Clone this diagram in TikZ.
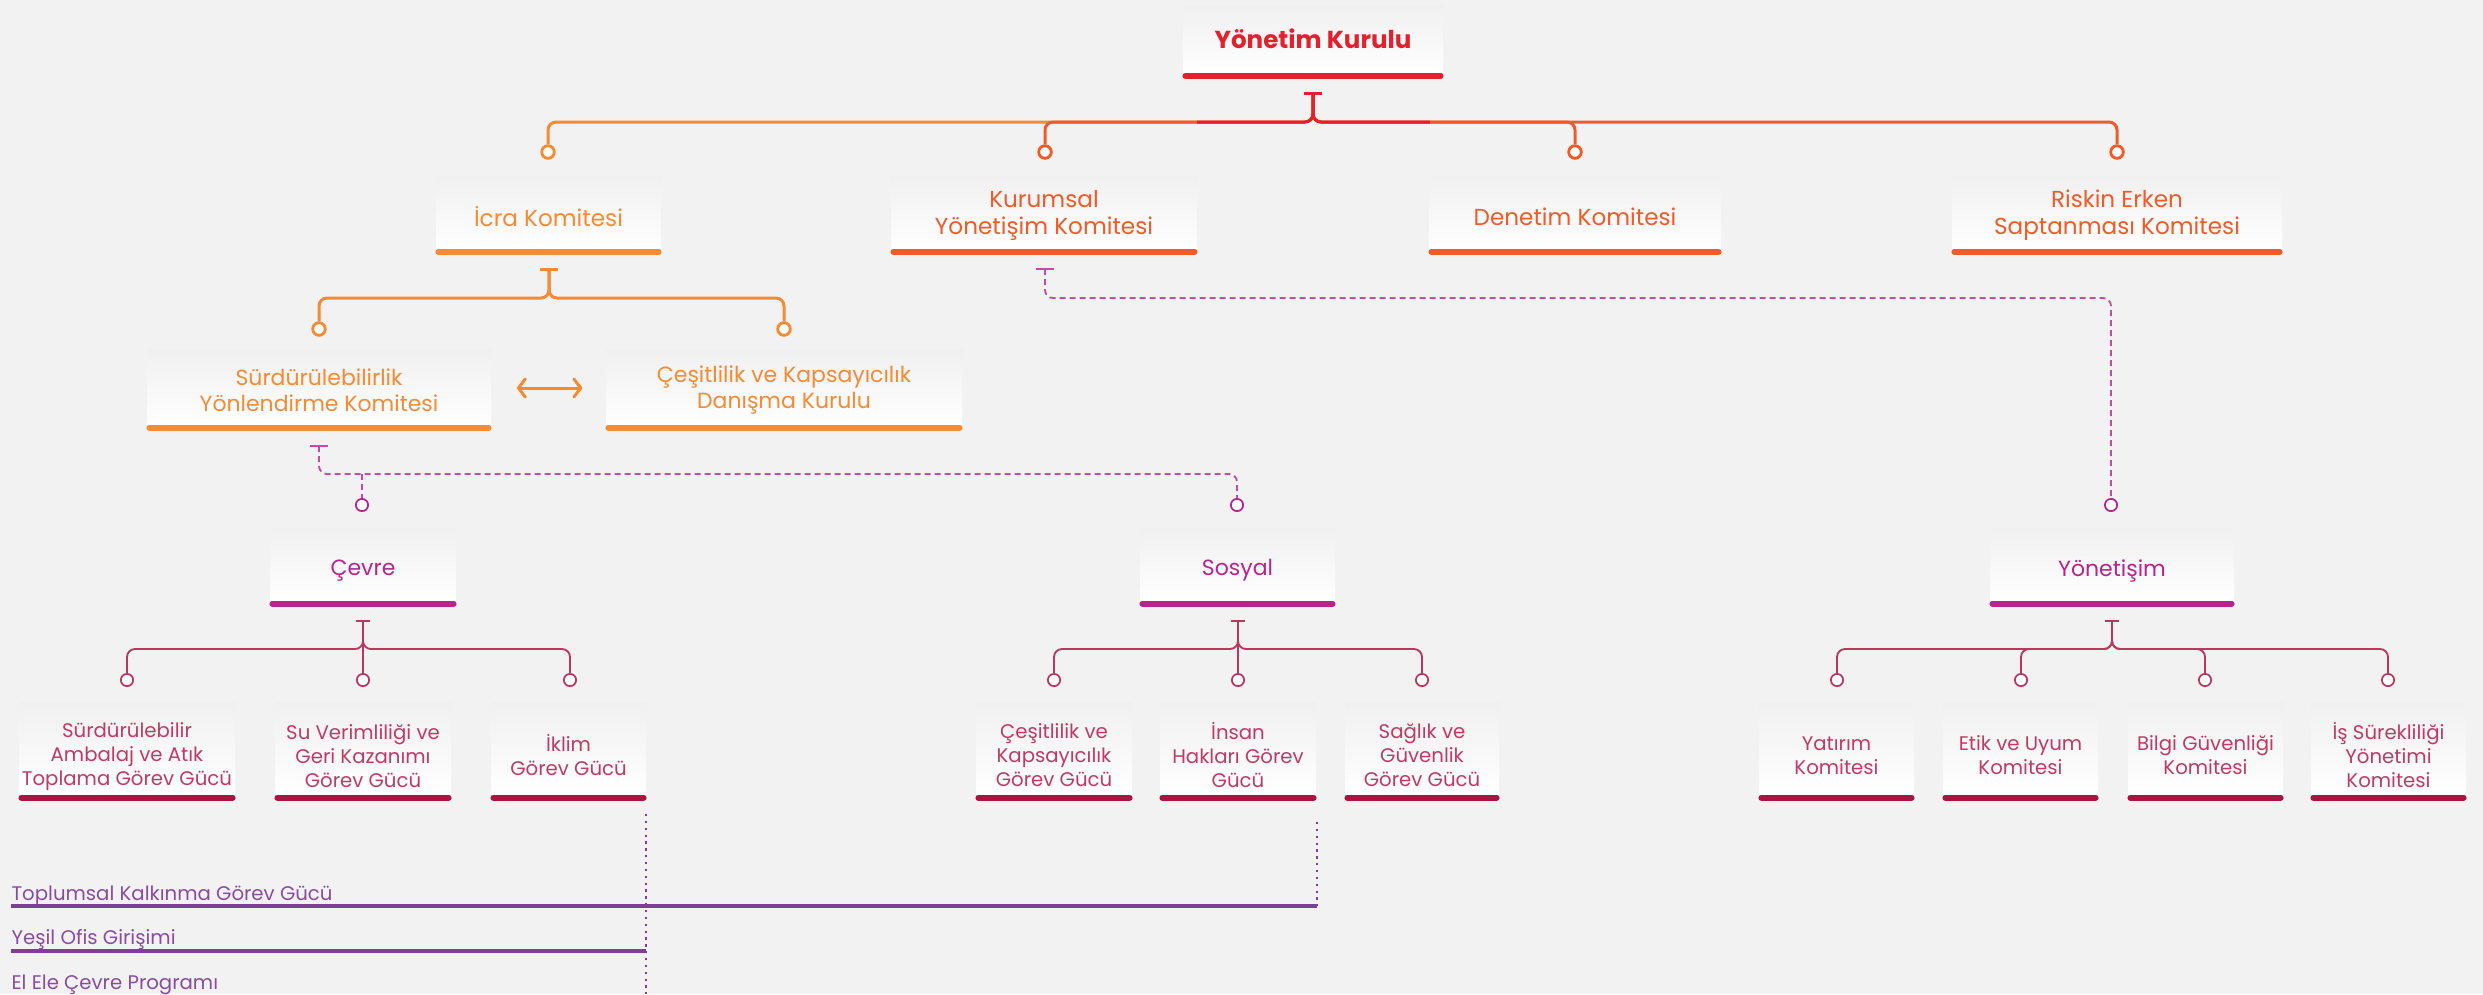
\documentclass[tikz,border=0pt]{standalone}
\usepackage{fontspec}
\setmainfont{Poppins}
\usetikzlibrary{arrows.meta}
\definecolor{bg}{HTML}{F2F2F2}
\definecolor{boxtop}{HTML}{F0F0F0}
\definecolor{cRed}{HTML}{E5202E}
\definecolor{cORed}{HTML}{F15A29}
\definecolor{cOrg}{HTML}{F68B33}
\definecolor{cMag}{HTML}{B8238E}
\definecolor{cDash}{HTML}{C64BA6}
\definecolor{cCrim}{HTML}{A91540}
\definecolor{cRose}{HTML}{C13A64}
\definecolor{cLine}{HTML}{BE3560}
\definecolor{cPurp}{HTML}{7E3F98}
\definecolor{cPurpT}{HTML}{8A4BA3}
\newcommand\fntA{\fontsize{8.6pt}{10.5pt}\selectfont\bfseries}
\newcommand\fntB{\fontsize{8.1pt}{9.45pt}\selectfont}
\newcommand\fntC{\fontsize{7.7pt}{9.1pt}\selectfont}
\newcommand\fntD{\fontsize{7.7pt}{9pt}\selectfont}
\newcommand\fntE{\fontsize{6.9pt}{8.4pt}\selectfont}
% name, xl, xr, ytop, ybar, barcolor, text options, text, text shift down (px)
\newcommand\orgbox[9]{%
  \node[obox, minimum width={(#3-#2)*0.35pt}, minimum height={(#5-#4)*0.35pt}]
    (#1) at ({(#2+#3)/2},{(#4+#5)/2}) {};
  \node[boxtext, #7] (#1-t) at ([yshift={-(#9)*0.35pt}]#1.center) {#8};
  \draw[bar, #6] ([xshift=1.05pt]#1.south west) -- ([xshift=-1.05pt]#1.south east);
}
\begin{document}
\begin{tikzpicture}[x=0.35pt,y=-0.35pt,
  obox/.style={inner sep=0pt, top color=boxtop, bottom color=white},
  boxtext/.style={inner sep=0pt, align=center},
  bar/.style={line width=2.1pt, line cap=round},
  conn/.style={line width=1.05pt, rounded corners=2.8pt},
  thinconn/.style={line width=0.65pt, rounded corners=2.8pt},
  dsh/.style={line width=0.65pt, rounded corners=2.8pt, dash pattern=on 2.1pt off 1.4pt},
  bigdot/.style={circle, draw, fill=white, inner sep=0pt, minimum size=4.4pt, line width=1pt},
  smalldot/.style={circle, draw, fill=white, inner sep=0pt, minimum size=4.3pt, line width=0.6pt},
  tbar/.style={line width=1.05pt},
  tbarthin/.style={line width=0.65pt},
  pline/.style={line width=1.4pt, cPurp},
  dotline/.style={line width=0.45pt, cPurp, dash pattern=on 0.8pt off 1.6pt},
  plabel/.style={inner sep=0pt, anchor=west, text=cPurpT, font=\fntE}
]
\fill[bg] (0,0) rectangle (2483,994);
\useasboundingbox (0,0) rectangle (2483,994);

% ---------------- boxes ----------------
\orgbox{yk}{1183}{1443}{5}{75}{cRed}{text=cRed, font=\fntA}{Yönetim Kurulu}{-1}

\orgbox{icra}{436}{661}{176}{251}{cOrg}{text=cOrg, font=\fntB}{İcra Komitesi}{3}
\orgbox{kurumsal}{891}{1197}{176}{251}{cORed}{text=cORed, font=\fntB}{Kurumsal\\Yönetişim Komitesi}{2}
\orgbox{denetim}{1429}{1721}{176}{251}{cORed}{text=cORed, font=\fntB}{Denetim Komitesi}{3}
\orgbox{riskin}{1952}{2282}{176}{251}{cORed}{text=cORed, font=\fntB}{Riskin Erken\\Saptanması Komitesi}{2}

\orgbox{surd}{147}{491}{349}{427}{cOrg}{text=cOrg, font=\fntC}{Sürdürülebilirlik\\Yönlendirme Komitesi}{2}
\orgbox{cesit}{606}{962}{349}{427}{cOrg}{text=cOrg, font=\fntC}{Çeşitlilik ve Kapsayıcılık\\Danışma Kurulu}{2}

\orgbox{cevre}{270}{456}{528}{603}{cMag}{text=cMag, font=\fntD}{Çevre}{5}
\orgbox{sosyal}{1140}{1335}{528}{603}{cMag}{text=cMag, font=\fntD}{Sosyal}{5}
\orgbox{yonetisim}{1990}{2234}{528}{603}{cMag}{text=cMag, font=\fntD}{Yönetişim}{5}

\orgbox{ambalaj}{19}{235}{702}{797}{cCrim}{text=cRose, font=\fntE}{Sürdürülebilir\\Ambalaj ve Atık\\Toplama Görev Gücü}{7}
\orgbox{su}{275}{451}{702}{797}{cCrim}{text=cRose, font=\fntE}{Su Verimliliği ve\\Geri Kazanımı\\Görev Gücü}{7}
\orgbox{iklim}{491}{646}{702}{797}{cCrim}{text=cRose, font=\fntE}{İklim\\Görev Gücü}{6}
\orgbox{cesitgg}{976}{1132}{702}{797}{cCrim}{text=cRose, font=\fntE}{Çeşitlilik ve\\Kapsayıcılık\\Görev Gücü}{6}
\orgbox{insan}{1160}{1316}{702}{797}{cCrim}{text=cRose, font=\fntE}{İnsan\\Hakları Görev\\Gücü}{6}
\orgbox{saglik}{1345}{1499}{702}{797}{cCrim}{text=cRose, font=\fntE}{Sağlık ve\\Güvenlik\\Görev Gücü}{6}
\orgbox{yatirim}{1759}{1914}{702}{797}{cCrim}{text=cRose, font=\fntE}{Yatırım\\Komitesi}{6}
\orgbox{etik}{1943}{2098}{702}{797}{cCrim}{text=cRose, font=\fntE}{Etik ve Uyum\\Komitesi}{6}
\orgbox{bilgi}{2128}{2283}{702}{797}{cCrim}{text=cRose, font=\fntE}{Bilgi Güvenliği\\Komitesi}{6}
\orgbox{is}{2311}{2466}{702}{797}{cCrim}{text=cRose, font=\fntE}{İş Sürekliliği\\Yönetimi\\Komitesi}{6}

% ---------------- T points and hubs ----------------
\coordinate (tYK) at (1313,93);   \coordinate (hYK) at (1313,122);
\coordinate (hubL) at (1197,122); \coordinate (hubR) at (1430,122);
\coordinate (tIcra) at (549,269); \coordinate (hIcra) at (549,298);
\coordinate (tKur) at (1045,269); \coordinate (hKur) at (1045,298);
\coordinate (tSurd) at (319,446); \coordinate (hSurd) at (319,474);
\coordinate (tCevre) at (363,621); \coordinate (hCevre) at (363,649);
\coordinate (tSos) at (1238,621); \coordinate (hSos) at (1238,649);
\coordinate (tYon) at (2112,621); \coordinate (hYon) at (2112,649);

% ---------------- circles ----------------
\node[bigdot, draw=cOrg]  (cIcra) at (548,152) {};
\node[bigdot, draw=cORed] (cKur) at (1045,152) {};
\node[bigdot, draw=cORed] (cDen) at (1575,152) {};
\node[bigdot, draw=cORed] (cRis) at (2117,152) {};
\node[bigdot, draw=cOrg]  (cSurd) at (319,329) {};
\node[bigdot, draw=cOrg]  (cCes) at (784,329) {};
\node[smalldot, draw=cMag] (cCevre) at (362,505) {};
\node[smalldot, draw=cMag] (cSos) at (1237,505) {};
\node[smalldot, draw=cMag] (cYon) at (2111,505) {};
\node[smalldot, draw=cLine] (cAmb) at (127,680) {};
\node[smalldot, draw=cLine] (cSu) at (363,680) {};
\node[smalldot, draw=cLine] (cIk) at (570,680) {};
\node[smalldot, draw=cLine] (cCg) at (1054,680) {};
\node[smalldot, draw=cLine] (cIn) at (1238,680) {};
\node[smalldot, draw=cLine] (cSa) at (1422,680) {};
\node[smalldot, draw=cLine] (cYa) at (1837,680) {};
\node[smalldot, draw=cLine] (cEt) at (2021,680) {};
\node[smalldot, draw=cLine] (cBi) at (2205,680) {};
\node[smalldot, draw=cLine] (cIs) at (2388,680) {};

% ---------------- top level connectors ----------------
\draw[conn, cOrg]  (tYK) -- (hYK) -| (cIcra.north);
\draw[conn, cORed] (tYK) -- (hYK) -| (cKur.north);
\draw[conn, cORed] (tYK) -- (hYK) -| (cDen.north);
\draw[conn, cORed] (tYK) -- (hYK) -| (cRis.north);
\draw[conn, cRed] (hubL) -- (hYK) -- (tYK);
\draw[conn, cRed] (hubR) -- (hYK) -- (tYK);
\draw[tbar, cRed] ([xshift=-3pt]tYK) -- ([xshift=3pt]tYK);

% İcra
\draw[conn, cOrg] (tIcra) -- (hIcra) -| (cSurd.north);
\draw[conn, cOrg] (tIcra) -- (hIcra) -| (cCes.north);
\draw[tbar, cOrg] ([xshift=-3pt]tIcra) -- ([xshift=3pt]tIcra);

% double arrow
\draw[cOrg, line width=1.05pt, shorten <=8.75pt, shorten >=8pt,
  {Straight Barb[length=2.4pt,width=6.4pt,line cap=round]}-{Straight Barb[length=2.4pt,width=6.4pt,line cap=round]}]
  (surd.east) -- (cesit.west);

% Kurumsal dashed
\draw[dsh, cDash] (tKur) -- (hKur) -| (cYon.north);
\draw[tbarthin, cDash] ([xshift=-3pt]tKur) -- ([xshift=3pt]tKur);

% Sürdürülebilirlik dashed
\draw[dsh, cDash] (tSurd) -- (hSurd) -| (cSos.north);
\draw[dsh, cDash] (cCevre.north |- hSurd) -- (cCevre.north);
\draw[tbarthin, cDash] ([xshift=-3pt]tSurd) -- ([xshift=3pt]tSurd);

% Çevre group
\draw[thinconn, cLine] (tCevre) -- (hCevre) -| (cAmb.north);
\draw[thinconn, cLine] (tCevre) -- (cSu.north);
\draw[thinconn, cLine] (tCevre) -- (hCevre) -| (cIk.north);
\draw[tbarthin, cLine] ([xshift=-2.6pt]tCevre) -- ([xshift=2.6pt]tCevre);

% Sosyal group
\draw[thinconn, cLine] (tSos) -- (hSos) -| (cCg.north);
\draw[thinconn, cLine] (tSos) -- (cIn.north);
\draw[thinconn, cLine] (tSos) -- (hSos) -| (cSa.north);
\draw[tbarthin, cLine] ([xshift=-2.6pt]tSos) -- ([xshift=2.6pt]tSos);

% Yönetişim group
\draw[thinconn, cLine] (tYon) -- (hYon) -| (cYa.north);
\draw[thinconn, cLine] (tYon) -- (hYon) -| (cEt.north);
\draw[thinconn, cLine] (tYon) -- (hYon) -| (cBi.north);
\draw[thinconn, cLine] (tYon) -- (hYon) -| (cIs.north);
\draw[tbarthin, cLine] ([xshift=-2.6pt]tYon) -- ([xshift=2.6pt]tYon);

% ---------------- bottom programmes ----------------
\node[plabel] (tk) at (11,896) {Toplumsal Kalkınma Görev Gücü};
\node[plabel] (yo) at (11,940) {Yeşil Ofis Girişimi};
\node[plabel] (ee) at (11,985) {El Ele Çevre Programı};
\coordinate (dIk) at (646,814);   \coordinate (dIkEnd) at (646,994);
\coordinate (dIn) at (1317,822);  \coordinate (dInEnd) at (1317,906);
\coordinate (tkL) at (11,906);    \coordinate (yoL) at (11,951);
\draw[dotline] (dIk) -- (dIkEnd);
\draw[dotline] (dIn) -- (dInEnd);
\draw[pline] (tkL) -- (dInEnd);
\draw[pline] (yoL) -- (yoL -| dIk);
\end{tikzpicture}
\end{document}
